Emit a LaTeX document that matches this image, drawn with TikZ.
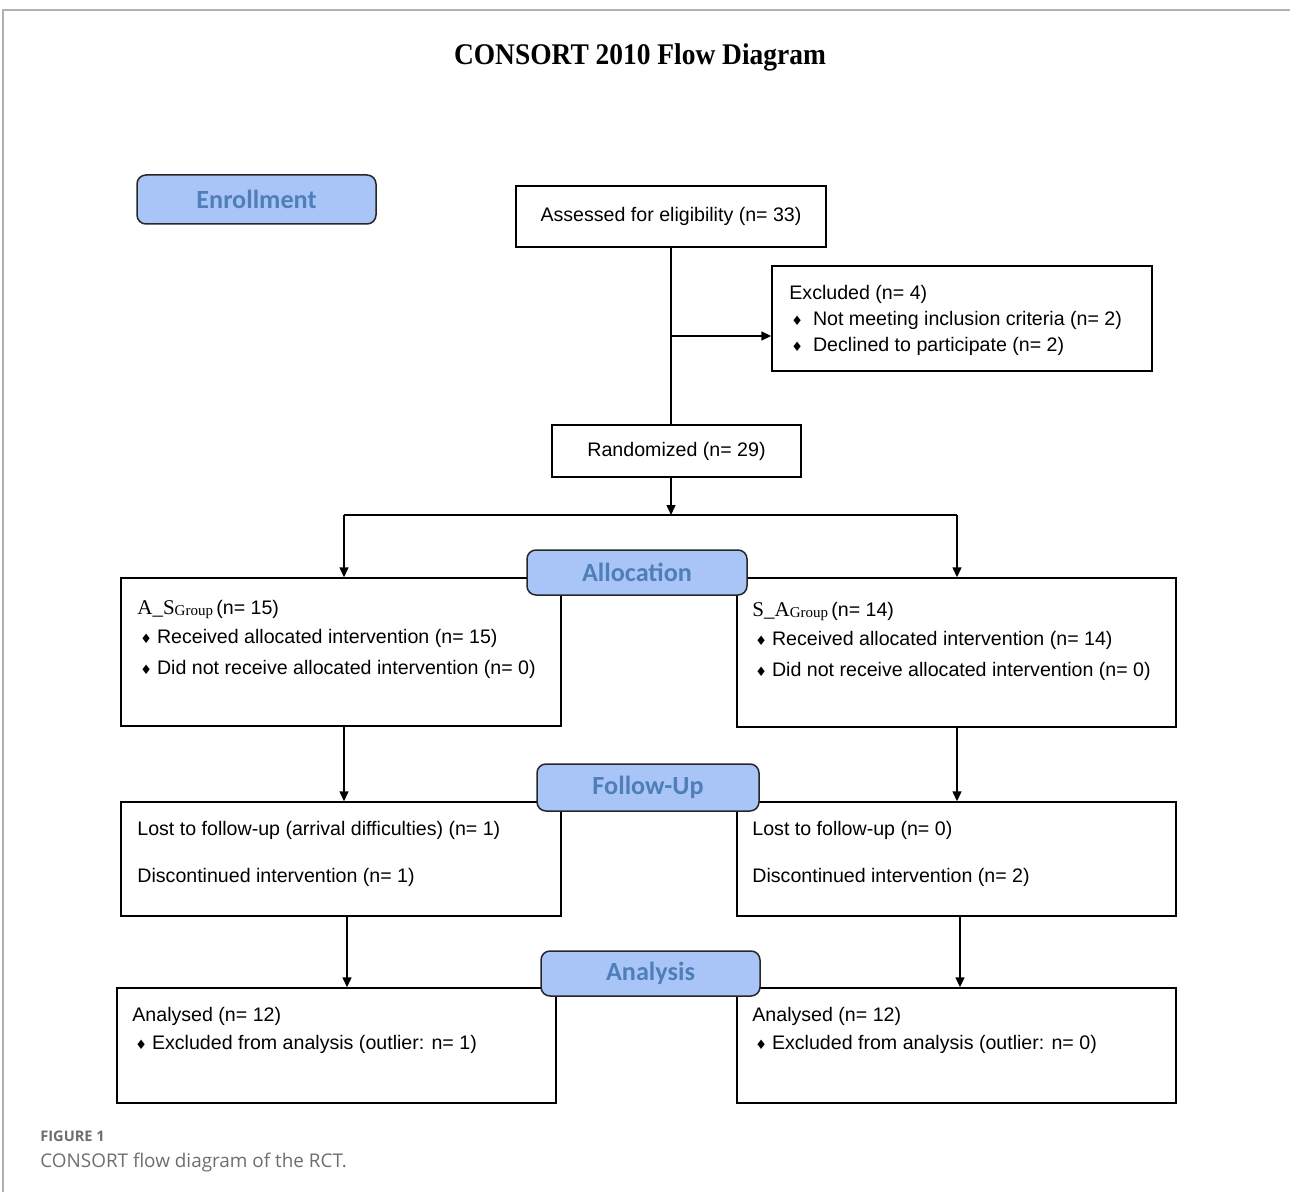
\documentclass[tikz,border=0pt]{standalone}
\usepackage{fontspec}
\setmainfont{Liberation Sans}
\newfontfamily\serifA{Liberation Serif}
\newfontfamily\carl{Carlito}
\newfontfamily\dejavu{DejaVu Sans}
\newfontfamily\capfont{Open Sans}
\usetikzlibrary{arrows.meta,fit}
\definecolor{phasefill}{HTML}{A9C5F7}
\definecolor{phasetext}{HTML}{4F7FB8}
\definecolor{framegray}{HTML}{B0B0B0}
\definecolor{capgray}{HTML}{6E6E6E}
\newcommand\bul[1]{{\dejavu\fontsize{6.5pt}{6.5pt}\selectfont ♦}\hspace{#1}}
\newcommand\grp[2]{{\serifA\fontsize{10.5pt}{12pt}\selectfont #1\raisebox{-0.8pt}{\fontsize{7.5pt}{9pt}\selectfont Group}}}
\begin{document}
\begin{tikzpicture}[x=0.5pt,y=-0.5pt,
  boxst/.style={draw=black, line width=0.7pt, inner sep=0pt, fill=white},
  phase/.style={draw=black!85, line width=0.75pt, rounded corners=4.5pt, fill=phasefill, inner sep=0pt},
  phasetxt/.style={inner sep=0pt, font=\carl\bfseries\fontsize{13.1pt}{14pt}\selectfont, text=phasetext},
  txt/.style={anchor=base west, inner sep=0pt, font=\fontsize{9.8pt}{12pt}\selectfont},
  ctxt/.style={inner sep=0pt, font=\fontsize{9.8pt}{12pt}\selectfont},
  ln/.style={line width=0.7pt, draw=black},
  arr/.style={line width=0.7pt, draw=black, -{Triangle[length=5pt,width=4.5pt]}}]
\useasboundingbox (0,0) rectangle (1290,1192);
% frame
\draw[framegray, line width=1pt] (3,1192) -- (3,10) -- (1290,10);
% title
\node[inner sep=0pt, font=\serifA\bfseries\fontsize{15pt}{17pt}\selectfont] (title) at (640,57) {\scalebox{0.915}[1]{CONSORT 2010 Flow Diagram}};
% boxes
\node[boxst, fit={(516,186) (826,247)}] (assess) {};
\node[ctxt] (assesst) at (assess.center) {Assessed for eligibility (n= 33)};
\node[boxst, fit={(772,266) (1152,371)}] (excl) {};
\node[boxst, fit={(552,425) (801,477)}] (rand) {};
\node[ctxt] (randt) at (rand.center) {Randomized (n= 29)};
\node[boxst, fit={(121,578) (561,726)}] (allocL) {};
\node[boxst, fit={(737,578) (1176,727)}] (allocR) {};
\node[boxst, fit={(121,802) (561,916)}] (fuL) {};
\node[boxst, fit={(737,802) (1176,916)}] (fuR) {};
\node[boxst, fit={(117,988) (556,1103)}] (anL) {};
\node[boxst, fit={(737,988) (1176,1103)}] (anR) {};
% texts
\node[txt] (ex1) at (789,300) {Excluded (n= 4)};
\node[txt] (ex2) at (791,326) {\bul{5pt}Not meeting inclusion criteria (n= 2)};
\node[txt] (ex3) at (791,352) {\bul{5pt}Declined to participate (n= 2)};
\node[txt] (al1) at (137,614) {\grp{A\_S}{}\,(n= 15)};
\node[txt] (al2) at (140,643) {\bul{2.5pt}Received allocated intervention (n= 15)};
\node[txt] (al3) at (140,674) {\bul{2.5pt}Did not receive allocated intervention (n= 0)};
\node[txt] (ar1) at (752,616) {\grp{S\_A}{}\,(n= 14)};
\node[txt] (ar2) at (755,645) {\bul{2.5pt}Received allocated intervention (n= 14)};
\node[txt] (ar3) at (755,676) {\bul{2.5pt}Did not receive allocated intervention (n= 0)};
\node[txt] (fl1) at (137,835) {Lost to follow-up (arrival difficulties) (n= 1)};
\node[txt] (fl2) at (137,882) {Discontinued intervention (n= 1)};
\node[txt] (fr1) at (752,835) {Lost to follow-up (n= 0)};
\node[txt] (fr2) at (752,882) {Discontinued intervention (n= 2)};
\node[txt] (nl1) at (132,1021) {Analysed (n= 12)};
\node[txt] (nl2) at (135,1049) {\bul{2.5pt}Excluded from analysis (outlier: n= 1)};
\node[txt] (nr1) at (752,1021) {Analysed (n= 12)};
\node[txt] (nr2) at (755,1049) {\bul{2.5pt}Excluded from analysis (outlier: n= 0)};
% connectors
\coordinate (bj) at (671,336);
\coordinate (sp) at (671,515);
\coordinate (spL) at (344,515);
\coordinate (spR) at (957,515);
\coordinate (fL) at (344,726);
\coordinate (fR) at (957,727);
\coordinate (gL) at (347,916);
\coordinate (gR) at (960,916);
\draw[ln] (assess.south) -- (assess.south |- rand.north);
\draw[arr] (bj) -- (bj -| excl.west);
\draw[arr] (sp |- rand.south) -- (sp);
\draw[ln] (spL) -- (spR);
\draw[arr] (spL) -- (spL |- allocL.north);
\draw[arr] (spR) -- (spR |- allocR.north);
\draw[arr] (fL) -- (fL |- fuL.north);
\draw[arr] (fR) -- (fR |- fuR.north);
\draw[arr] (gL) -- (gL |- anL.north);
\draw[arr] (gR) -- (gR |- anR.north);
% phase labels
\node[phase, fit={(137,175) (376,224)}] (enr) {};
\node[phasetxt] (enrt) at (enr.center) {Enrollment};
\node[phase, fit={(527,550) (747,595)}] (alc) {};
\node[phasetxt] (alct) at (alc.center) {Allocation};
\node[phase, fit={(537,764) (759,811)}] (fol) {};
\node[phasetxt] (folt) at (fol.center) {Follow-Up};
\node[phase, fit={(541,951) (760,996)}] (ana) {};
\node[phasetxt] (anat) at (ana.center) {Analysis};
% caption
\node[anchor=base west, inner sep=0pt, font=\capfont\bfseries\fontsize{7.3pt}{9pt}\selectfont, text=capgray] (fig) at (40,1141) {FIGURE 1};
\node[anchor=base west, inner sep=0pt, font=\capfont\fontsize{9.45pt}{11pt}\selectfont, text=capgray] (cap) at (40,1167) {CONSORT flow diagram of the RCT.};
\end{tikzpicture}
\end{document}
